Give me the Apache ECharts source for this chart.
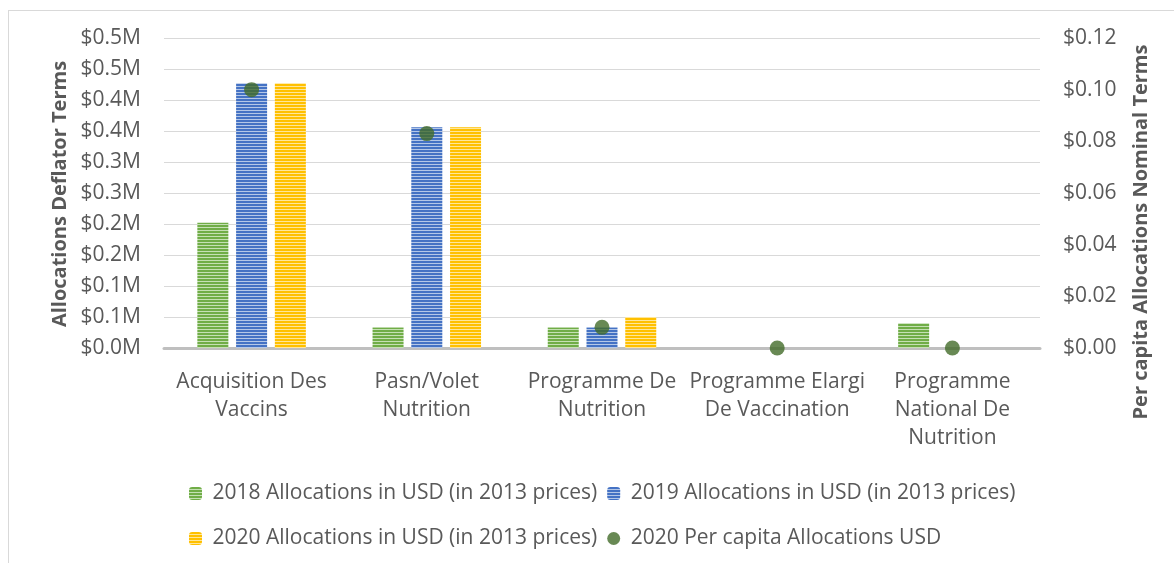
<!DOCTYPE html>
<html>
<head>
<meta charset="utf-8">
<script src="https://cdn.jsdelivr.net/npm/echarts@6/dist/echarts.min.js"></script>
<style>
  html, body { margin: 0; padding: 0; background: #fff; }
  #chart { width: 1174px; height: 563px; }
  .frame { position: absolute; left: 8px; top: 10px; right: 0; bottom: 0;
           border-left: 1px solid #d9d9d9; border-top: 1px solid #d9d9d9; pointer-events: none; }
</style>
</head>
<body>
<div id="chart"></div>
<div class="frame"></div>
<script>
const categories = [
  "Acquisition Des\nVaccins",
  "Pasn/Volet\nNutrition",
  "Programme De\nNutrition",
  "Programme Elargi\nDe Vaccination",
  "Programme\nNational De\nNutrition"
];
const alloc2018 = [202000, 33000, 33000, 0, 40000];
const alloc2019 = [427000, 356000, 33000, 0, 0];
const alloc2020 = [427000, 356000, 50000, 0, 0];
const perCapita2020 = [0.100, 0.083, 0.008, 0, 0];

const seriesNames = [
  "2018 Allocations in USD (in 2013 prices)",
  "2019 Allocations in USD (in 2013 prices)",
  "2020 Allocations in USD (in 2013 prices)",
  "2020 Per capita Allocations USD"
];
const leftTitle = "Allocations Deflator Terms";
const rightTitle = "Per capita Allocations Nominal Terms";

var FONT = "Open Sans";
var FS = 21;
var TXT = "#595959";

// horizontal stripe fill like the excel pattern
function stripes(main, light) {
  var c = document.createElement("canvas");
  c.width = 4; c.height = 3;
  var ctx = c.getContext("2d");
  ctx.fillStyle = main; ctx.fillRect(0, 0, 4, 3);
  ctx.fillStyle = light; ctx.fillRect(0, 2, 4, 1);
  return { image: c, repeat: "repeat" };
}

var chart = echarts.init(document.getElementById("chart"));

function barSeries(name, data, main, light) {
  return {
    name: name,
    type: "bar",
    yAxisIndex: 0,
    barWidth: 31,
    barGap: "25%",
    itemStyle: { color: stripes(main, light) },
    data: data
  };
}

var legendCommon = {
  itemWidth: 13, itemHeight: 13, itemGap: 10,
  formatter: function (n) { return " " + n; },
  textStyle: { fontFamily: FONT, fontSize: FS, color: TXT }
};

chart.setOption({
  animation: false,
  textStyle: { fontFamily: FONT },
  grid: { left: 164, right: 134, top: 38, bottom: 215 },
  legend: [
    Object.assign({ left: 184, top: 478, data: [seriesNames[0], seriesNames[1]] }, legendCommon),
    Object.assign({ left: 184, top: 523, data: [seriesNames[2], { name: seriesNames[3], icon: "circle" }] }, legendCommon)
  ],
  graphic: [
    {
      type: "text", x: 60, y: 194, rotation: Math.PI / 2,
      style: { text: leftTitle, align: "center", verticalAlign: "middle",
               fontFamily: FONT, fontSize: 20, fontWeight: "bold", fill: TXT }
    },
    {
      type: "text", x: 1141, y: 232, rotation: Math.PI / 2,
      style: { text: rightTitle, align: "center", verticalAlign: "middle",
               fontFamily: FONT, fontSize: 20, fontWeight: "bold", fill: TXT }
    }
  ],
  xAxis: {
    type: "category",
    data: categories,
    axisLine: { lineStyle: { color: "#bfbfbf", width: 3 } },
    axisTick: { show: false },
    axisLabel: {
      interval: 0, margin: 20, lineHeight: 28,
      fontFamily: FONT, fontSize: FS, color: TXT
    }
  },
  yAxis: [
    {
      type: "value",
      min: 0, max: 500000, interval: 50000,
      axisLine: { show: false },
      axisTick: { show: false },
      splitLine: { lineStyle: { color: "#d9d9d9" } },
      axisLabel: {
        margin: 23, fontFamily: FONT, fontSize: FS, color: TXT,
        formatter: function (v) { return "$" + (Math.round(v / 100000) / 10).toFixed(1) + "M"; }
      }
    },
    {
      type: "value",
      min: 0, max: 0.12, interval: 0.02,
      axisLine: { show: false },
      axisTick: { show: false },
      splitLine: { show: false },
      axisLabel: {
        margin: 23, fontFamily: FONT, fontSize: FS, color: TXT,
        formatter: function (v) { return "$" + v.toFixed(2); }
      }
    }
  ],
  series: [
    barSeries(seriesNames[0], alloc2018, "#70ad47", "#c5e0b4"),
    barSeries(seriesNames[1], alloc2019, "#4472c4", "#b4c7e7"),
    barSeries(seriesNames[2], alloc2020, "#ffc000", "#ffe699"),
    {
      name: seriesNames[3],
      type: "scatter",
      yAxisIndex: 1,
      symbol: "circle",
      symbolSize: 15,
      itemStyle: { color: "#426b29" },
      data: perCapita2020
    }
  ]
});
</script>
</body>
</html>
